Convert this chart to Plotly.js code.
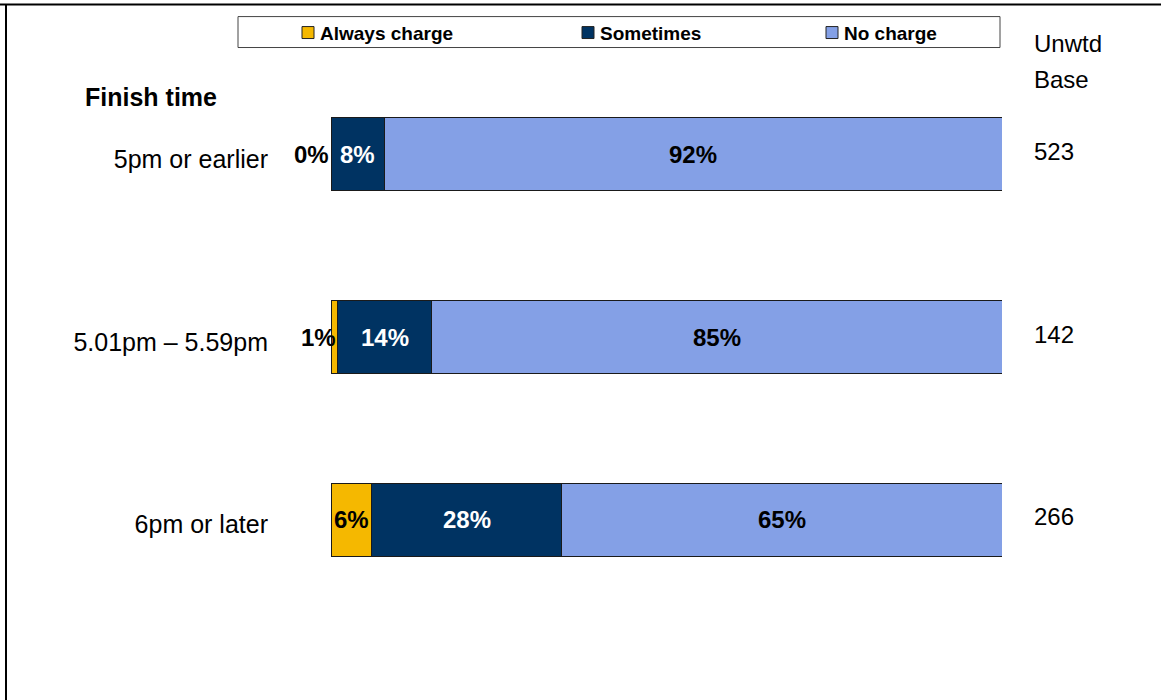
<!DOCTYPE html>
<html><head><meta charset="utf-8">
<script src="https://cdn.plot.ly/plotly-3.0.1.min.js"></script>
<style>body{margin:0;background:#fff}#chart{width:1161px;height:700px}</style>
</head><body><div id="chart"></div>
<script>
// ---- data ----
const categories = ["5pm or earlier", "5.01pm \u2013 5.59pm", "6pm or later"];
const seriesNames = ["Always charge", "Sometimes", "No charge"];
const alwaysCharge = [0, 1, 6.1];
const sometimes = [8, 14, 28.3];
const noCharge = [92, 85, 65.6];
const alwaysLabels = ["0%", "1%", "6%"];
const sometimesLabels = ["8%", "14%", "28%"];
const noChargeLabels = ["92%", "85%", "65%"];
const unweightedBase = [523, 142, 266];

// ---- style ----
const colors = ["#F5B800", "#003362", "#84A0E6"];
const labelColors = ["#000000", "#ffffff", "#000000"];
const FONT = "Arial, 'Liberation Sans', sans-serif";
const W = 1161, H = 700, L = 331, R = 1002, T = 62.5, B = 611.5;
const px = x => (x - L) / (R - L);
const py = y => (B - y) / (B - T);

const seriesValues = [alwaysCharge, sometimes, noCharge];
const seriesLabels = [alwaysLabels, sometimesLabels, noChargeLabels];

const traces = seriesValues.map((vals, i) => ({
  type: "bar", orientation: "h", name: seriesNames[i],
  x: vals, y: categories,
  marker: {color: colors[i], line: {color: "#1a1a1a", width: 1}},
  textposition: "none", hoverinfo: "name+x"
}));

const annotations = [];
categories.forEach((cat, r) => {
  let cum = 0;
  seriesValues.forEach((vals, i) => {
    const v = vals[r];
    const small = i === 0 && v < 3;
    annotations.push({
      x: small ? cum + v : cum + v / 2, y: cat, xref: "x", yref: "y",
      text: "<b>" + seriesLabels[i][r] + "</b>", showarrow: false,
      xanchor: small ? "right" : "center", yanchor: "middle",
      font: {family: FONT, size: 24, color: labelColors[i]}
    });
    cum += v;
  });
  annotations.push({
    x: px(1032), y: cat, xref: "paper", yref: "y", xanchor: "left", yanchor: "middle",
    text: String(unweightedBase[r]), showarrow: false, yshift: 3,
    font: {family: FONT, size: 24, color: "#000"}
  });
});
annotations.push(
  {x: px(1032), y: py(43), xref: "paper", yref: "paper", xanchor: "left", yanchor: "middle", text: "Unwtd", showarrow: false, font: {family: FONT, size: 24, color: "#000"}},
  {x: px(1032), y: py(79), xref: "paper", yref: "paper", xanchor: "left", yanchor: "middle", text: "Base", showarrow: false, font: {family: FONT, size: 24, color: "#000"}},
  {x: px(83), y: py(97), xref: "paper", yref: "paper", xanchor: "left", yanchor: "middle", text: "<b>Finish time</b>", showarrow: false, font: {family: FONT, size: 25, color: "#000"}}
);

// manual legend
const legendSwatchX = [302, 582, 826];
const shapes = [
  {type: "line", xref: "paper", yref: "paper", x0: px(0), x1: px(W), y0: py(4), y1: py(4), line: {color: "#000", width: 2}},
  {type: "line", xref: "paper", yref: "paper", x0: px(6), x1: px(6), y0: py(4), y1: py(H + 2), line: {color: "#000", width: 2}},
  {type: "rect", xref: "paper", yref: "paper", x0: px(238), x1: px(1000), y0: py(47), y1: py(16), line: {color: "#444", width: 1}, fillcolor: "#fff"}
];
seriesNames.forEach((n, i) => {
  const sx = legendSwatchX[i];
  shapes.push({type: "rect", xref: "paper", yref: "paper", x0: px(sx), x1: px(sx + 12), y0: py(38), y1: py(26), line: {color: "#222", width: 1}, fillcolor: colors[i]});
  annotations.push({x: px(sx + 16), y: py(32.5), xref: "paper", yref: "paper", xanchor: "left", yanchor: "middle", text: "<b>" + n + "</b>", showarrow: false, font: {family: FONT, size: 19, color: "#000"}});
});

const layout = {
  width: W, height: H, barmode: "stack", bargap: 0.6, showlegend: false,
  margin: {l: L, r: W - R, t: T, b: H - B, pad: 0},
  paper_bgcolor: "#fff", plot_bgcolor: "#fff",
  xaxis: {range: [0, 100], visible: false, fixedrange: true},
  yaxis: {type: "category", categoryarray: categories, range: [2.5, -0.5], showgrid: false, zeroline: false, showline: false,
          ticks: "", ticklabelstandoff: 62, ticklabelshift: -5, tickfont: {family: FONT, size: 25, color: "#000"}, fixedrange: true},
  annotations, shapes
};
Plotly.newPlot("chart", traces, layout, {displayModeBar: false, staticPlot: true});
</script></body></html>
